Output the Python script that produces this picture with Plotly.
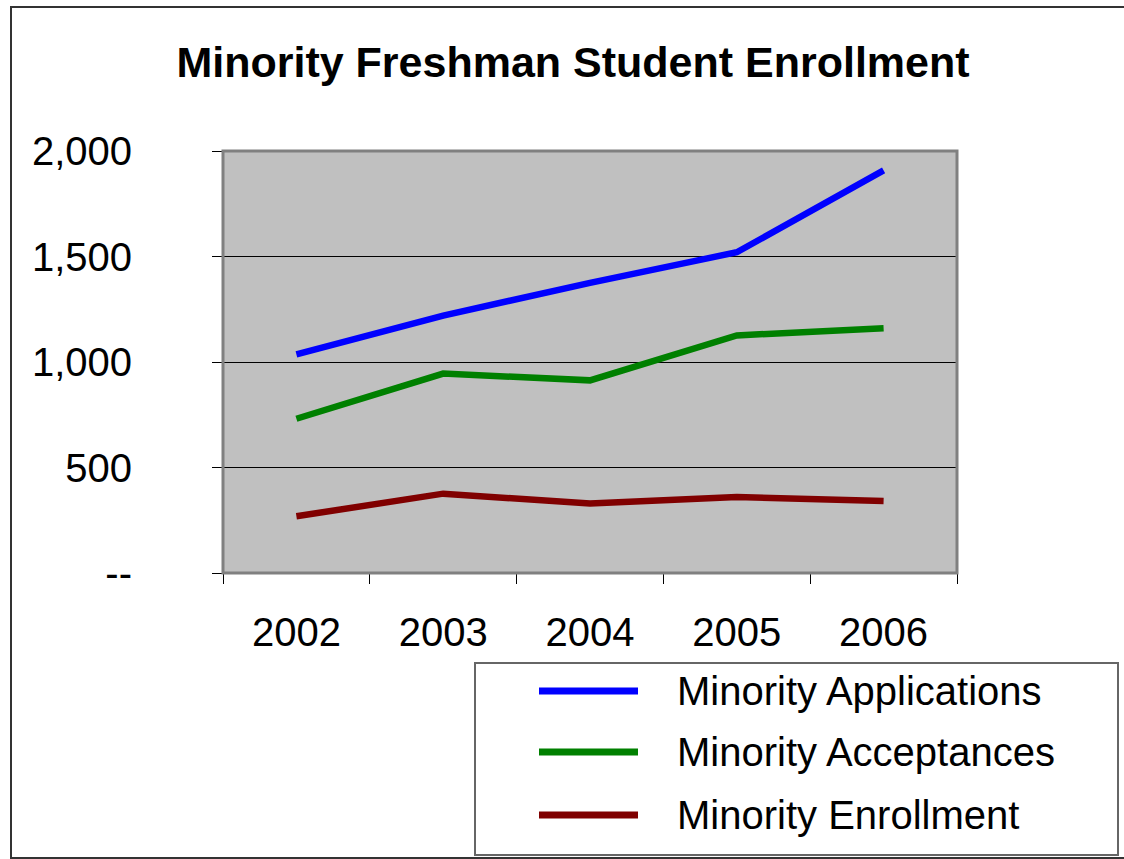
import plotly.graph_objects as go

# ---- data ----
years = ["2002", "2003", "2004", "2005", "2006"]
applications = [1036, 1220, 1375, 1520, 1908]
acceptances = [731, 945, 913, 1126, 1160]
enrollment = [269, 376, 329, 360, 341]
series_names = ["Minority Applications", "Minority Acceptances", "Minority Enrollment"]
series_colors = ["#0000FF", "#008000", "#800000"]
y_tickvals = [0, 500, 1000, 1500, 2000]
y_ticktext = ["--", "500", "1,000", "1,500", "2,000"]
title_text = "Minority Freshman Student Enrollment"

W, H = 1124, 859
L, R, T, B = 223, 957, 151, 573  # plot area pixel edges
FONT = "Liberation Sans, Arial, sans-serif"


def px(x):
    return (x - L) / (R - L)


def py(y):
    return (B - y) / (B - T)


fig = go.Figure()
for name, vals, col in zip(series_names, [applications, acceptances, enrollment], series_colors):
    fig.add_trace(go.Scatter(x=years, y=vals, mode="lines", name=name,
                             line=dict(color=col, width=6.5), showlegend=False))

shapes = []
# plot area border (gray)
shapes.append(dict(type="rect", xref="paper", yref="paper", x0=0, x1=1, y0=0, y1=1,
                   line=dict(color="#808080", width=3), layer="above"))
# outer chart frame
shapes.append(dict(type="rect", xref="paper", yref="paper", x0=px(11), x1=px(1130),
                   y0=py(858), y1=py(7), line=dict(color="#333333", width=2)))
# legend box
shapes.append(dict(type="rect", xref="paper", yref="paper", x0=px(475), x1=px(1118),
                   y0=py(855), y1=py(663), line=dict(color="#666666", width=2),
                   fillcolor="white"))
annotations = []
legend_y = [691, 752, 815]
for name, col, ly in zip(series_names, series_colors, legend_y):
    shapes.append(dict(type="line", xref="paper", yref="paper", x0=px(539), x1=px(638),
                       y0=py(ly), y1=py(ly), line=dict(color=col, width=7)))
    annotations.append(dict(xref="paper", yref="paper", x=px(675), y=py(ly), text=name,
                            showarrow=False, xanchor="left", yanchor="middle",
                            font=dict(family=FONT, size=40, color="black")))

fig.update_layout(
    width=W, height=H,
    margin=dict(l=L, r=W - R, t=T, b=H - B, pad=0),
    paper_bgcolor="white",
    plot_bgcolor="#C0C0C0",
    title=dict(text="<b>" + title_text + "</b>", x=573 / W, xref="container", xanchor="center",
               y=1 - 62 / H, yref="container", yanchor="middle",
               font=dict(family=FONT, size=43, color="black")),
    showlegend=False,
    shapes=shapes,
    annotations=annotations,
    xaxis=dict(type="category", categoryorder="array", categoryarray=years,
               range=[-0.5, len(years) - 0.5], tickson="boundaries",
               ticks="outside", ticklen=10, tickcolor="black", tickwidth=1,
               showline=True, linecolor="black", linewidth=1, showgrid=False,
               tickfont=dict(family=FONT, size=40, color="black"),
               ticklabelstandoff=24),
    yaxis=dict(range=[0, 2000], tickvals=y_tickvals, ticktext=y_ticktext,
               ticks="outside", ticklen=10, tickcolor="black", tickwidth=1,
               showline=True, linecolor="black", linewidth=1,
               showgrid=True, gridcolor="black", gridwidth=1, zeroline=False,
               tickfont=dict(family=FONT, size=40, color="black"),
               ticklabelstandoff=72),
)

fig.write_html("out.html", config={"displayModeBar": False},
               post_script="document.body.style.margin='0';")
